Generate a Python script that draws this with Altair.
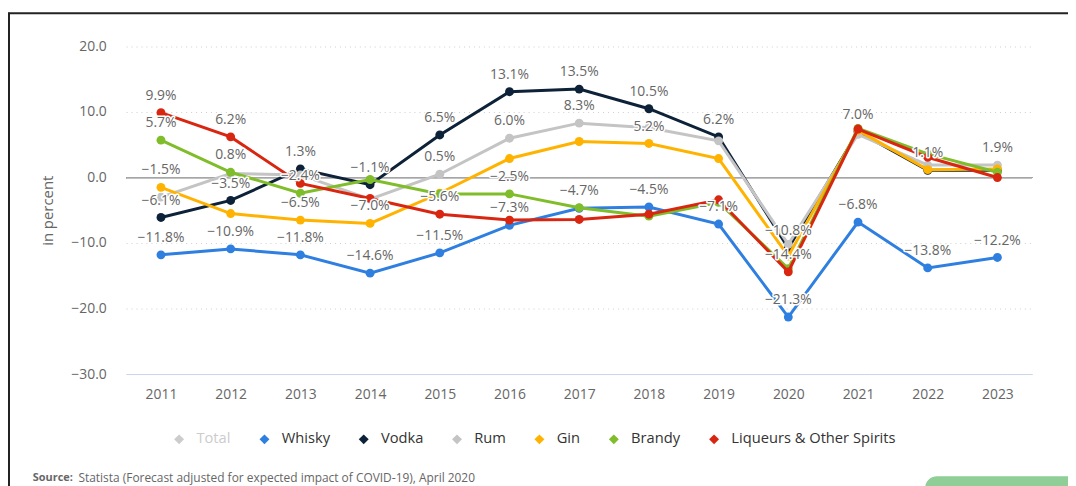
import altair as alt
import pandas as pd

years = [2011, 2012, 2013, 2014, 2015, 2016, 2017, 2018, 2019, 2020, 2021, 2022, 2023]

series_names = ["Total", "Whisky", "Vodka", "Rum", "Gin", "Brandy", "Liqueurs & Other Spirits"]
series_colors = ["#cccccc", "#2f7fe0", "#0d2238", "#c4c4c4", "#ffb300", "#80bd2b", "#d92610"]

whisky = [-11.8, -10.9, -11.8, -14.6, -11.5, -7.3, -4.7, -4.5, -7.1, -21.3, -6.8, -13.8, -12.2]
vodka = [-6.1, -3.5, 1.3, -1.1, 6.5, 13.1, 13.5, 10.5, 6.2, -10.8, 7.0, 1.1, 1.1]
rum = [-3.0, 0.6, 0.4, -3.3, 0.5, 6.0, 8.3, 7.6, 5.6, -10.2, 6.6, 1.9, 1.9]
gin = [-1.5, -5.5, -6.5, -7.0, -2.4, 2.9, 5.5, 5.2, 2.9, -12.0, 7.2, 1.2, 1.3]
brandy = [5.7, 0.8, -2.4, -0.3, -2.5, -2.5, -4.6, -5.9, -3.8, -13.9, 7.5, 3.6, 0.8]
liqueurs = [9.9, 6.2, -0.9, -3.2, -5.6, -6.5, -6.4, -5.6, -3.4, -14.4, 7.4, 3.1, 0.0]

# years whose data label is visible (others are hidden by overlap in the original)
labels_whisky = years
labels_vodka = [2011, 2012, 2013, 2014, 2015, 2016, 2017, 2018, 2019, 2020, 2021, 2022]
labels_rum = [2015, 2016, 2017, 2023]
labels_gin = [2011, 2013, 2014, 2018]
labels_brandy = [2011, 2012, 2013, 2016]
labels_liqueurs = [2011, 2012, 2015, 2020]

source_bold = "Source:"
source_text = "Statista (Forecast adjusted for expected impact of COVID\u201119), April 2020"

FONT = "Open Sans"

series_data = [
    ("Whisky", whisky, labels_whisky),
    ("Vodka", vodka, labels_vodka),
    ("Rum", rum, labels_rum),
    ("Gin", gin, labels_gin),
    ("Brandy", brandy, labels_brandy),
    ("Liqueurs & Other Spirits", liqueurs, labels_liqueurs),
]

rows = []
for name, vals, shown in series_data:
    for yr, v in zip(years, vals):
        rows.append({"year": str(yr), "series": name, "value": v, "show": yr in shown})
df = pd.DataFrame(rows)

x_enc = alt.X(
    "year:O",
    scale=alt.Scale(type="point", padding=0.5),
    axis=alt.Axis(
        title=None, labelAngle=0, ticks=False, labelPadding=14,
        domainColor="#ccd6eb", domainWidth=1, labelFontSize=14,
        labelColor="#666666", labelFont=FONT, grid=False,
    ),
)
y_enc = alt.Y(
    "value:Q",
    scale=alt.Scale(domain=[-30, 20], nice=False, zero=False),
    axis=alt.Axis(
        values=[-30, -20, -10, 0, 10, 20], format=".1f", title="in percent",
        domain=False, ticks=False, labelPadding=20, labelFontSize=14,
        labelColor="#666666", labelFont=FONT,
        grid=True, gridDash=[1, 4], gridColor="#cfcfcf", gridWidth=1,
        titleFont=FONT, titleFontSize=15, titleFontWeight="normal",
        titleColor="#666666", titleX=-79, titleY=165, titleAngle=270,
        titleAlign="center", titleBaseline="middle",
    ),
)
color_enc = alt.Color(
    "series:N",
    scale=alt.Scale(domain=series_names, range=series_colors),
    legend=alt.Legend(
        title=None, orient="none", direction="horizontal",
        legendX=46, legendY=388, symbolType="diamond", symbolSize=100,
        symbolStrokeWidth=0, labelFont=FONT, labelFontSize=14.8,
        labelColor={"expr": "datum.label == 'Total' ? '#cccccc' : '#333333'"},
        labelOffset=10, columnPadding=26, padding=0, labelLimit=400,
    ),
)

base = alt.Chart(df)

zero_line = base.mark_rule(color="#a6a6a6", strokeWidth=1).encode(y=alt.datum(0))

layers = [zero_line]
for name, _, _ in series_data:
    sub = base.transform_filter(alt.datum.series == name)
    layers.append(sub.mark_line(strokeWidth=3).encode(x=x_enc, y=y_enc, color=color_enc))
    layers.append(sub.mark_point(filled=True, size=80, opacity=1).encode(x=x_enc, y=y_enc, color=color_enc))

lab = base.transform_filter(alt.datum.show).transform_calculate(
    txt="format(datum.value, '.1f') + '%'"
)
halo = lab.mark_text(
    dy=-17, font=FONT, fontSize=14, fill="white", stroke="white",
    strokeWidth=3, strokeJoin="round", baseline="middle",
).encode(x=x_enc, y=y_enc, text="txt:N")
labels = lab.mark_text(
    dy=-17, font=FONT, fontSize=14, color="#666666", baseline="middle",
).encode(x=x_enc, y=y_enc, text="txt:N")
layers += [halo, labels]

deco = alt.Chart(pd.DataFrame({"a": [0]}))
top_border = deco.mark_rule(color="#222222", strokeWidth=2).encode(
    x=alt.value(-119), x2=alt.value(990), y=alt.value(-33.5)
)
left_border = deco.mark_rule(color="#222222", strokeWidth=2).encode(
    x=alt.value(-118), y=alt.value(-34), y2=alt.value(480)
)
button = deco.mark_rect(color="#8fce97", cornerRadius=12).encode(
    x=alt.value(805), x2=alt.value(1000), y=alt.value(433), y2=alt.value(480)
)
src1 = deco.mark_text(
    align="left", baseline="middle", font=FONT, fontSize=11,
    fontWeight="bold", color="#666666",
).encode(x=alt.value(-94), y=alt.value(434.5), text=alt.value(source_bold))
src2 = deco.mark_text(
    align="left", baseline="middle", font=FONT, fontSize=12, color="#666666",
).encode(x=alt.value(-48), y=alt.value(434.5), text=alt.value(source_text))
layers += [top_border, left_border, button, src1, src2]

chart = alt.layer(*layers).properties(
    width=913, height=330,
    padding={"left": 119, "top": 37, "right": 36, "bottom": 111},
    autosize=alt.AutoSizeParams(type="none"),
    background="white",
).configure_view(stroke=None)

chart.save("out.html", embed_options={"renderer": "svg", "actions": False})
